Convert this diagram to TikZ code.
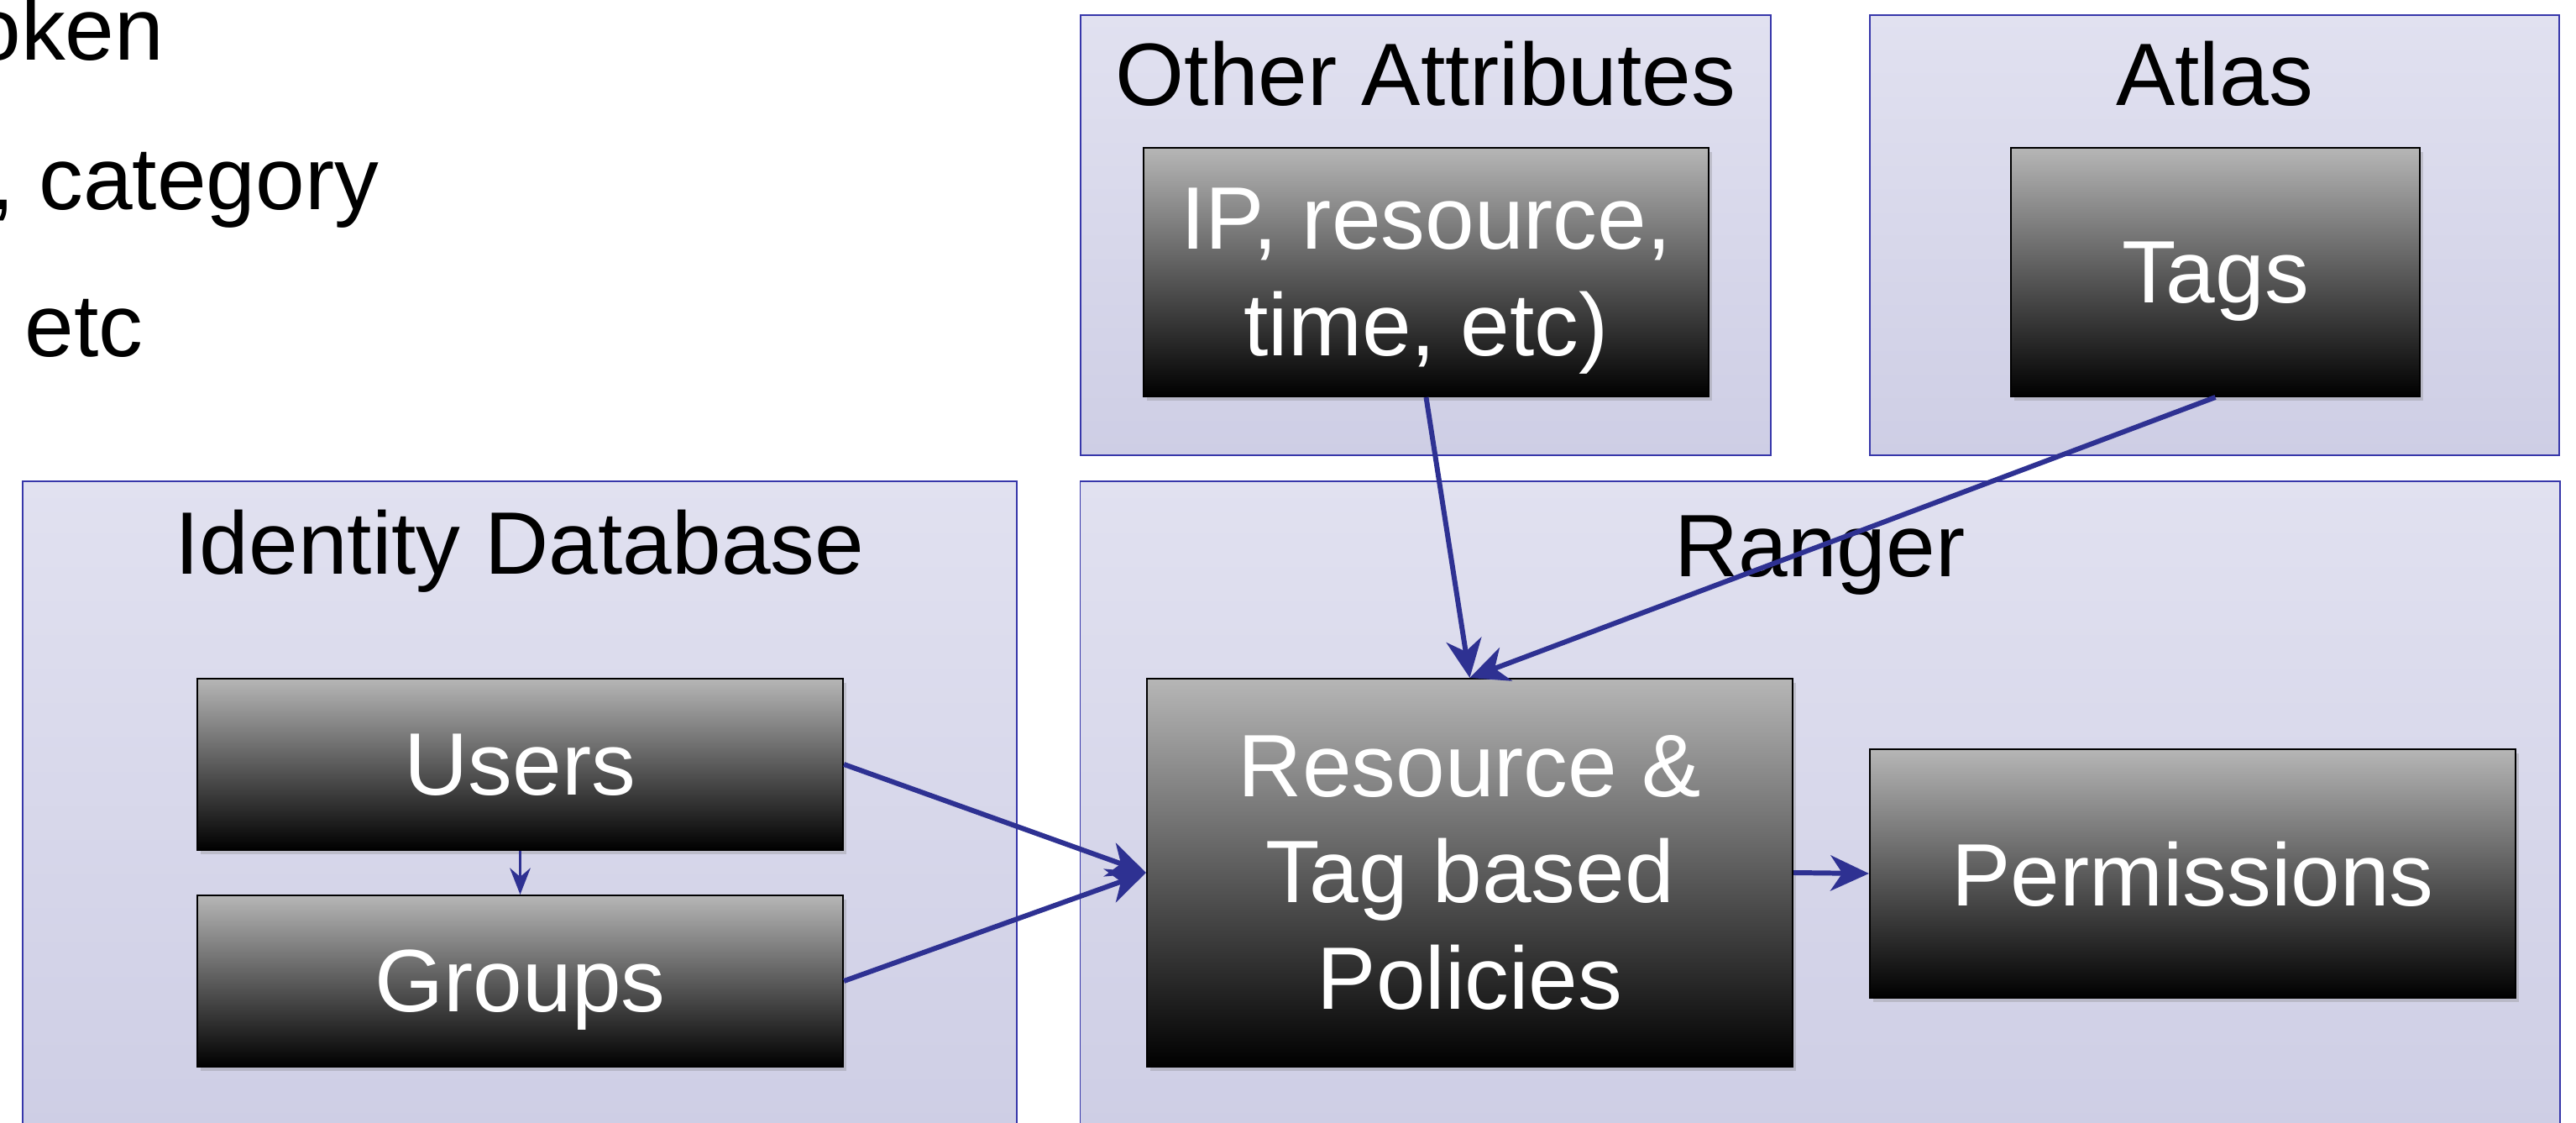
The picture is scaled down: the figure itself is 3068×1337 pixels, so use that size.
\documentclass[tikz,border=0pt]{standalone}
\usepackage{fontspec}
\setmainfont{Liberation Sans}
\usetikzlibrary{arrows.meta,shadows}
\definecolor{arrowblue}{RGB}{46,49,146}
\definecolor{frameblue}{RGB}{55,55,170}
\definecolor{contop}{RGB}{225,225,240}
\definecolor{conbot}{RGB}{206,206,229}
\definecolor{boxtop}{RGB}{182,182,182}
\begin{document}
\begin{tikzpicture}[x=0.01cm,y=-0.01cm,
  bigfont/.style={font=\fontsize{30}{36}\selectfont},
  container/.style={draw=frameblue, line width=0.55pt, top color=contop, bottom color=conbot, inner sep=0pt},
  header/.style={bigfont, text=black, anchor=base, inner sep=0pt},
  blackbox/.style={draw=black, line width=0.5pt, top color=boxtop, bottom color=black, text=white,
    inner sep=0pt, align=center, bigfont,
    drop shadow={shadow xshift=0.04cm, shadow yshift=-0.05cm, opacity=0.3}},
  single/.style={text depth=0pt},
  conn/.style={draw=arrowblue, line width=1.7pt, -{Stealth[length=13pt,width=12pt,inset=4pt]}},
  thinconn/.style={draw=arrowblue, line width=0.9pt, -{Stealth[length=9pt,width=7pt,inset=3pt]}},
  plaintext/.style={bigfont, text=black, anchor=base east, inner sep=0pt}
]
\useasboundingbox (0,0) rectangle (3068,1337);
\fill[white] (0,0) rectangle (3068,1337);

% cut-off slide text
\node[plaintext] (t1) at (196,72) {oken};
\node[plaintext] (t2) at (452,250) {, category};
\node[plaintext] (t3) at (171,425) {etc};

% containers
\node[container, minimum width=8.22cm, minimum height=5.24cm] (other) at (1698,280) {};
\node[container, minimum width=8.21cm, minimum height=5.24cm] (atlas) at (2637.5,280) {};
\node[container, minimum width=11.84cm, minimum height=7.72cm] (ident) at (619,959) {};
\node[container, minimum width=17.61cm, minimum height=7.72cm] (ranger) at (2167.5,959) {};

% headers
\node[header] (hother) at (1698,126) {Other Attributes};
\node[header] (hatlas) at (2637.5,126) {Atlas};
\node[header] (hident) at (619,684) {Identity Database};
\node[header] (hranger) at (2167.5,687) {Ranger};

% boxes
\node[blackbox, single, minimum width=7.69cm, minimum height=2.04cm] (users) at (619.5,910) {Users};
\node[blackbox, single, minimum width=7.69cm, minimum height=2.04cm] (groups) at (619.5,1168) {Groups};
\node[blackbox, minimum width=7.69cm, minimum height=4.62cm] (policies) at (1750.5,1039) {Resource \&\\Tag based\\Policies};
\node[blackbox, single, minimum width=7.69cm, minimum height=2.96cm] (perm) at (2611.5,1040) {Permissions};
\node[blackbox, single, minimum width=6.73cm, minimum height=2.96cm] (ip) at (1698.5,324) {IP, resource,\\time, etc)};
\node[blackbox, single, minimum width=4.87cm, minimum height=2.96cm] (tags) at (2638.5,324) {Tags};

% connectors
\draw[thinconn] (users.south) -- (groups.north);
\draw[conn] (users.east) -- (policies.west);
\draw[conn] (groups.east) -- (policies.west);
\draw[conn] (ip.south) -- (policies.north);
\draw[conn] (tags.south) -- (policies.north);
\draw[conn] (policies.east) -- (perm.west);
\end{tikzpicture}
\end{document}
